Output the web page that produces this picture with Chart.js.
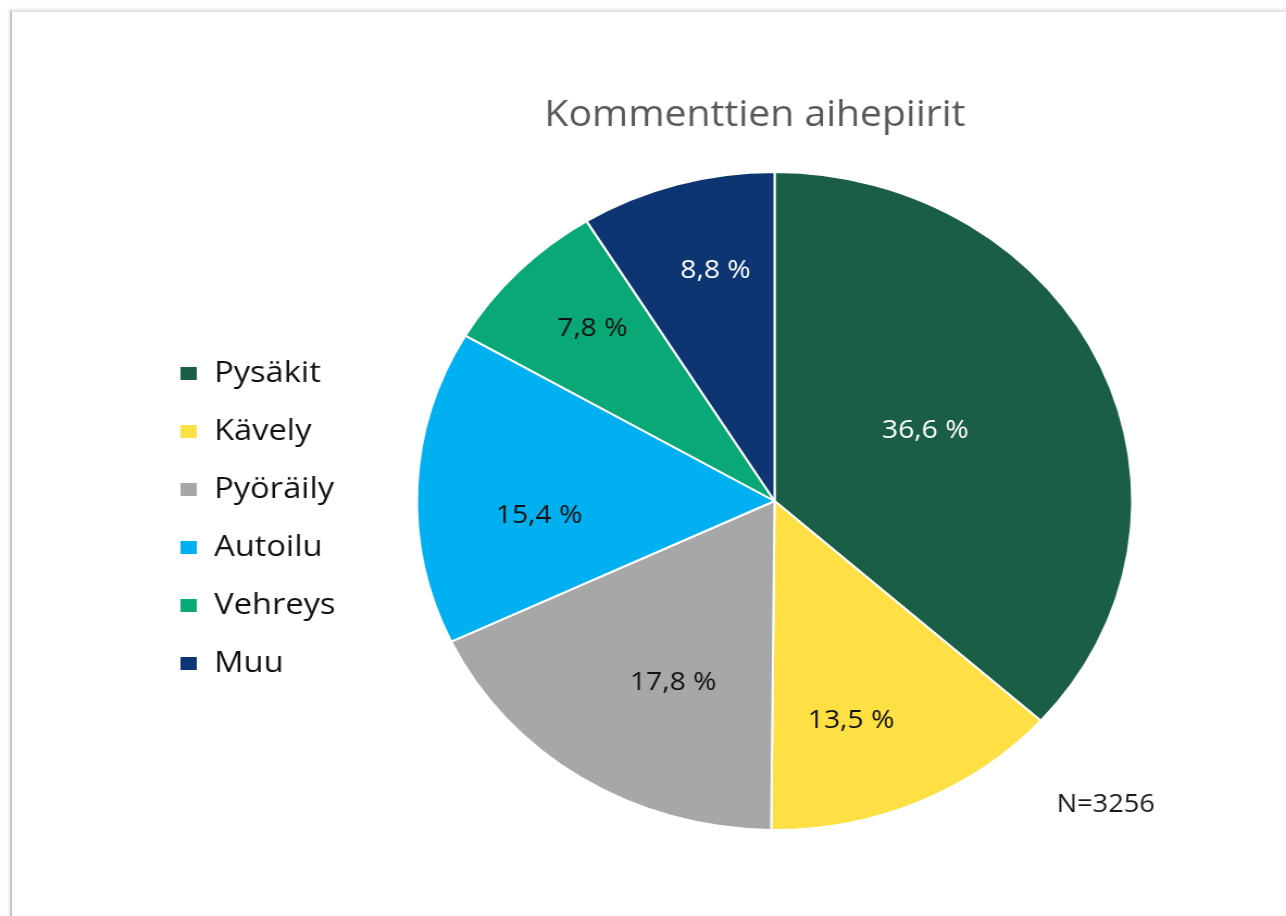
<!DOCTYPE html>
<html><head><meta charset="utf-8">
<script src="https://cdn.jsdelivr.net/npm/chart.js@4"></script>
<style>
html,body{margin:0;padding:0;background:#fff;width:1286px;height:916px;overflow:hidden;}
#frame{position:absolute;left:10px;top:10px;width:1300px;height:930px;border-left:2px solid #c4c4c4;border-top:2px solid #e6e6e6;box-shadow:-1px -1px 3px rgba(0,0,0,0.10);}
#wrap{position:absolute;left:0;top:0;width:1183px;height:916px;transform:scaleX(1.0871);transform-origin:0 0;}
canvas{display:block;}
</style></head>
<body>
<div id="frame"></div>
<div id="wrap"><canvas id="c" width="1183" height="916"></canvas></div>
<script>
// ---- data ----
const categories = ['Pysäkit', 'Kävely', 'Pyöräily', 'Autoilu', 'Vehreys', 'Muu'];
const shares = [36.6, 13.5, 17.8, 15.4, 7.8, 8.8];
const chartTitle = 'Kommenttien aihepiirit';
const noteText = 'N=3256';

// ---- styles ----
const sliceColors = ['#1b5e46', '#ffe044', '#a7a7a7', '#00b0f0', '#0aa877', '#0c3571'];
const labelColors = ['#ffffff', '#111111', '#111111', '#111111', '#111111', '#ffffff'];
const labelRadiusFrac = [0.473, 0.70, 0.62, 0.66, 0.73, 0.72];
const labelAngleShift = [-3, 6, -5.4, -6.4, 1.5, 2.6]; // degrees, label placement tweak
const FONT = "'Open Sans', 'DejaVu Sans', sans-serif";
const CANVAS_W = 1183, CANVAS_H = 916;
const CX = 712.5, CY = 501, R = 329;

const sliceLabels = {
  id: 'sliceLabels',
  afterDatasetsDraw(chart) {
    const ctx = chart.ctx;
    const meta = chart.getDatasetMeta(0);
    ctx.save();
    ctx.font = `26px ${FONT}`;
    ctx.textAlign = 'center';
    ctx.textBaseline = 'middle';
    meta.data.forEach((arc, i) => {
      const p = arc.getProps(['x', 'y', 'startAngle', 'endAngle', 'outerRadius'], true);
      const mid = (p.startAngle + p.endAngle) / 2 + labelAngleShift[i] * Math.PI / 180;
      const r = p.outerRadius * labelRadiusFrac[i];
      const txt = shares[i].toFixed(1).replace('.', ',') + ' %';
      ctx.fillStyle = labelColors[i];
      ctx.fillText(txt, p.x + Math.cos(mid) * r, p.y + Math.sin(mid) * r);
    });
    ctx.restore();
  }
};

const textBits = {
  id: 'textBits',
  afterDraw(chart) {
    const ctx = chart.ctx;
    ctx.save();
    ctx.textBaseline = 'middle';
    ctx.textAlign = 'center';
    ctx.fillStyle = '#595959';
    ctx.font = `36px ${FONT}`;
    ctx.fillText(chartTitle, 694.5, 116);
    ctx.textAlign = 'left';
    ctx.fillStyle = '#1a1a1a';
    ctx.font = `25px ${FONT}`;
    ctx.fillText(noteText, 972, 805);
    ctx.restore();
  }
};

const chart = new Chart(document.getElementById('c'), {
  type: 'pie',
  data: {
    labels: categories,
    datasets: [{
      data: shares,
      backgroundColor: sliceColors,
      borderColor: '#ffffff',
      borderWidth: 2,
      radius: R
    }]
  },
  options: {
    responsive: false,
    animation: false,
    devicePixelRatio: 1,
    layout: { padding: { top: 86, bottom: 0, left: 137, right: 80 } },
    plugins: {
      title: { display: false },
      tooltip: { enabled: false },
      legend: {
        position: 'left',
        align: 'center',
        title: { display: true, text: '', font: { size: 4 }, padding: { top: 30, bottom: 0 } },
        labels: {
          boxWidth: 17,
          boxHeight: 15,
          padding: 28,
          color: '#111111',
          font: { family: FONT, size: 30 }
        }
      }
    }
  },
  plugins: [sliceLabels, textBits]
});
// centre the pie at CX: adjust right padding from measured legend box
const leftEdge = chart.chartArea.left;
chart.options.layout.padding.right = CANVAS_W - (2 * CX - leftEdge);
chart.update('none');
</script>
</body></html>
